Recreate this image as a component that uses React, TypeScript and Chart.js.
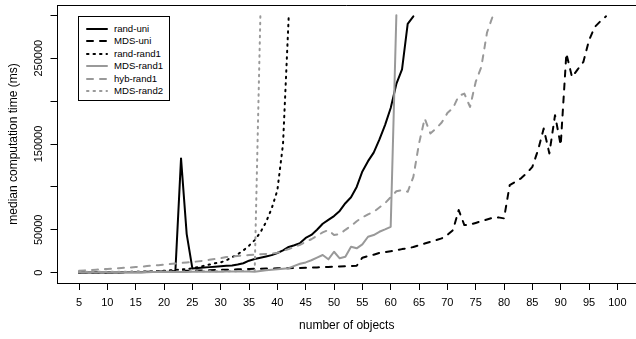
import React, { useEffect, useRef } from 'react';
import { Chart, registerables } from 'chart.js';

Chart.register(...registerables);

// number of objects (x values); every series starts at 5
const nObjects = [
  5, 6, 7, 8, 9, 10, 11, 12, 13, 14, 15, 16, 17, 18, 19, 20, 21, 22, 23, 24,
  25, 26, 27, 28, 29, 30, 31, 32, 33, 34, 35, 36, 37, 38, 39, 40, 41, 42, 43, 44,
  45, 46, 47, 48, 49, 50, 51, 52, 53, 54, 55, 56, 57, 58, 59, 60, 61, 62, 63, 64,
  65, 66, 67, 68, 69, 70, 71, 72, 73, 74, 75, 76, 77, 78, 79, 80, 81, 82, 83, 84,
  85, 86, 87, 88, 89, 90, 91, 92, 93, 94, 95, 96, 97, 98, 99, 100,
];

const xTickValues = [5, 10, 15, 20, 25, 30, 35, 40, 45, 50, 55, 60, 65, 70, 75, 80, 85, 90, 95, 100];
const yTickValues = [0, 50000, 100000, 150000, 200000, 250000, 300000];
const yTickLabels = ['0', '50000', '', '150000', '', '250000', ''];

const seriesNames = ['rand-uni', 'MDS-uni', 'rand-rand1', 'MDS-rand1', 'hyb-rand1', 'MDS-rand2'];

// median computation time (ms), from n = 5 upward
const randUni = [
  100, 120, 150, 180, 220, 260, 300, 350, 400, 460,
  520, 600, 680, 760, 850, 950, 1050, 1200, 133200, 45000,
  5000, 5500, 6000, 6500, 7000, 7500, 8000, 8500, 9500, 11000,
  14000, 16000, 17500, 19000, 20500, 23000, 26000, 30000, 32000, 34500,
  40500, 44000, 50000, 57000, 61500, 66000, 72000, 81000, 88000, 100000,
  118000, 130000, 140000, 155000, 172000, 192000, 220000, 237000, 290000, 298800,
];

const mdsUni = [
  100, 150, 200, 250, 300, 400, 450, 550, 650, 750,
  850, 950, 1100, 1200, 1350, 1500, 1650, 1800, 2000, 2150,
  2300, 2500, 2700, 2900, 3100, 3300, 3500, 3700, 3900, 4100,
  4300, 4500, 4700, 4900, 5000, 5100, 5200, 5300, 5500, 5600,
  5800, 6000, 6200, 6400, 6700, 7000, 7300, 7600, 7900, 8100,
  17500, 19500, 21000, 23000, 24000, 25000, 26000, 27500, 28400, 30000,
  32000, 34000, 36000, 38000, 40000, 44000, 49700, 73000, 55500, 56000,
  58000, 60000, 62000, 64000, 64500, 63300, 102100, 106000, 110000, 116000,
  123400, 142800, 168100, 139000, 183600, 148600, 255400, 228100, 237000, 245600,
  270900, 286300, 293000, 298800,
];

const randRand1 = [
  200, 250, 300, 350, 400, 500, 600, 700, 800, 950,
  1100, 1300, 1500, 1700, 2000, 2300, 2700, 3100, 3700, 4400,
  5100, 6500, 8000, 9500, 11000, 12000, 14500, 18000, 21500, 26000,
  31500, 38000, 47000, 59000, 75000, 96000, 150000, 298000,
];

const mdsRand1 = [
  300, 300, 350, 350, 400, 400, 450, 450, 500, 500,
  550, 600, 650, 700, 700, 750, 800, 850, 900, 950,
  1000, 1050, 1100, 1150, 1200, 1250, 1300, 1350, 1400, 1450,
  1500, 1000, 2000, 2800, 3500, 4000, 4600, 5200, 8000, 10500,
  12000, 14500, 17500, 20600, 15600, 24400, 16800, 18600, 30300, 28400,
  33000, 41900, 43900, 47700, 50500, 53500, 300000,
];

const hybRand1 = [
  2300, 2700, 3100, 3500, 4000, 4400, 4800, 5200, 5700, 6100,
  6600, 7100, 7700, 8300, 8800, 9400, 10000, 10700, 11300, 11900,
  12500, 13200, 14000, 15000, 16000, 17000, 18200, 19000, 19600, 20100,
  20600, 21000, 21500, 21900, 22300, 23200, 25500, 27500, 30000, 32500,
  36000, 39000, 43000, 47000, 49700, 44000, 45000, 50000, 54500, 60000,
  64500, 68000, 71000, 76000, 81000, 88000, 95000, 96300, 94300, 111700,
  150600, 179700, 162300, 168000, 175000, 186000, 192000, 206000, 208800, 193200,
  222300, 240000, 280000, 298800,
];

const mdsRand2 = [
  900, 950, 1000, 1000, 1050, 1100, 1100, 1150, 1200, 1200,
  1250, 1300, 1300, 1350, 1400, 1400, 1450, 1500, 1500, 1550,
  1600, 1600, 1650, 1700, 1700, 1750, 1800, 1800, 1850, 1900,
  1950, 2000, 298800,
];

const seriesValues = [randUni, mdsUni, randRand1, mdsRand1, hybRand1, mdsRand2];

const BLACK = '#000000';
const GRAY = '#999999';
const seriesColors = [BLACK, BLACK, BLACK, GRAY, GRAY, GRAY];
const DASHED = [6, 7];
const DOTTED = [1.5, 5];
const seriesDashes = [[], DASHED, DOTTED, [], DASHED, DOTTED];

const FONT = 'Liberation Sans, Arial, Helvetica, sans-serif';

const frameTop = {
  id: 'frameTop',
  afterDraw(chart: any) {
    const { ctx, chartArea } = chart;
    ctx.save();
    ctx.strokeStyle = '#000';
    ctx.lineWidth = 1;
    ctx.beginPath();
    const y = Math.round(chartArea.top) + 0.5;
    ctx.moveTo(chartArea.left, y);
    ctx.lineTo(chartArea.right, y);
    ctx.stroke();
    ctx.restore();
  },
};

const legendRowCenters = [12, 24.4, 36.8, 49.2, 61.6, 74];

export default function App() {
  const canvasRef = useRef<HTMLCanvasElement | null>(null);

  useEffect(() => {
    document.body.style.margin = '0';
    const canvas = canvasRef.current;
    if (!canvas) return;
    const datasets = seriesNames.map((name, i) => ({
      label: name,
      data: seriesValues[i].map((v, j) => ({ x: nObjects[j], y: v })),
      borderColor: seriesColors[i],
      backgroundColor: seriesColors[i],
      borderWidth: 2,
      borderDash: seriesDashes[i],
      borderCapStyle: 'round' as const,
      borderJoinStyle: 'round' as const,
      pointRadius: 0,
      tension: 0,
      fill: false,
      order: seriesNames.length - 1 - i,
    }));

    const chart = new Chart(canvas, {
      type: 'line',
      data: { datasets },
      plugins: [frameTop],
      options: {
        responsive: false,
        animation: false,
        devicePixelRatio: 1,
        layout: { padding: { top: 5, right: 0, bottom: 0, left: 0 } },
        plugins: {
          legend: { display: false },
          tooltip: { enabled: false },
        },
        scales: {
          x: {
            type: 'linear',
            bounds: 'data',
            min: 1.2,
            max: 103.29,
            afterBuildTicks: (s: any) => {
              s.ticks = xTickValues.map((v) => ({ value: v }));
            },
            afterFit: (s: any) => {
              s.height = 56;
            },
            grid: {
              display: true,
              drawOnChartArea: false,
              drawTicks: true,
              tickLength: 7,
              color: '#000',
              lineWidth: 1,
            },
            border: { display: true, color: '#000', width: 1 },
            ticks: {
              autoSkip: false,
              maxRotation: 0,
              minRotation: 0,
              padding: 6,
              color: '#000',
              font: { family: FONT, size: 11 },
              callback: (v: any) => String(v),
            },
            title: {
              display: true,
              text: 'number of objects',
              color: '#000',
              font: { family: FONT, size: 12 },
              padding: { top: 0, bottom: 6 },
            },
          },
          y: {
            type: 'linear',
            bounds: 'data',
            min: -12000,
            max: 312000,
            afterBuildTicks: (s: any) => {
              s.ticks = yTickValues.map((v) => ({ value: v }));
            },
            afterFit: (s: any) => {
              s.width = 57.5;
            },
            grid: {
              display: true,
              drawOnChartArea: false,
              drawTicks: true,
              tickLength: 7,
              color: '#000',
              lineWidth: 1,
            },
            border: { display: true, color: '#000', width: 1 },
            ticks: {
              autoSkip: false,
              minRotation: 90,
              maxRotation: 90,
              crossAlign: 'center',
              padding: -6.8,
              color: '#000',
              font: { family: FONT, size: 11 },
              callback: (v: any) => {
                const idx = yTickValues.indexOf(Number(v));
                return idx >= 0 ? yTickLabels[idx] : '';
              },
            },
            title: {
              display: true,
              text: 'median computation time (ms)',
              color: '#000',
              font: { family: FONT, size: 12 },
              padding: { top: 6.8, bottom: 0 },
            },
          },
        },
      } as any,
    });
    return () => chart.destroy();
  }, []);

  return (
    <div style={{ position: 'relative', width: 636, height: 339, overflow: 'hidden', background: '#fff' }}>
      <canvas ref={canvasRef} width={636} height={339} style={{ position: 'absolute', left: 0, top: 0, width: 636, height: 339 }} />
      <div
        style={{
          position: 'absolute',
          left: 78,
          top: 16,
          width: 92,
          height: 85,
          boxSizing: 'border-box',
          border: '1px solid #000',
          background: '#fff',
          fontFamily: FONT,
          fontSize: 9.6,
          color: '#000',
        }}
      >
        {seriesNames.map((name, i) => (
          <div
            key={name}
            style={{
              position: 'absolute',
              left: 0,
              top: legendRowCenters[i] - 6,
              height: 12,
              width: 90,
            }}
          >
            <svg width={22} height={12} style={{ position: 'absolute', left: 7, top: 0 }}>
              <line
                x1={1}
                y1={6}
                x2={21}
                y2={6}
                stroke={seriesColors[i]}
                strokeWidth={2}
                strokeLinecap="round"
                strokeDasharray={seriesDashes[i].length ? seriesDashes[i].join(' ') : undefined}
              />
            </svg>
            <span style={{ position: 'absolute', left: 35, top: 0, lineHeight: '12px', whiteSpace: 'nowrap' }}>{name}</span>
          </div>
        ))}
      </div>
    </div>
  );
}
